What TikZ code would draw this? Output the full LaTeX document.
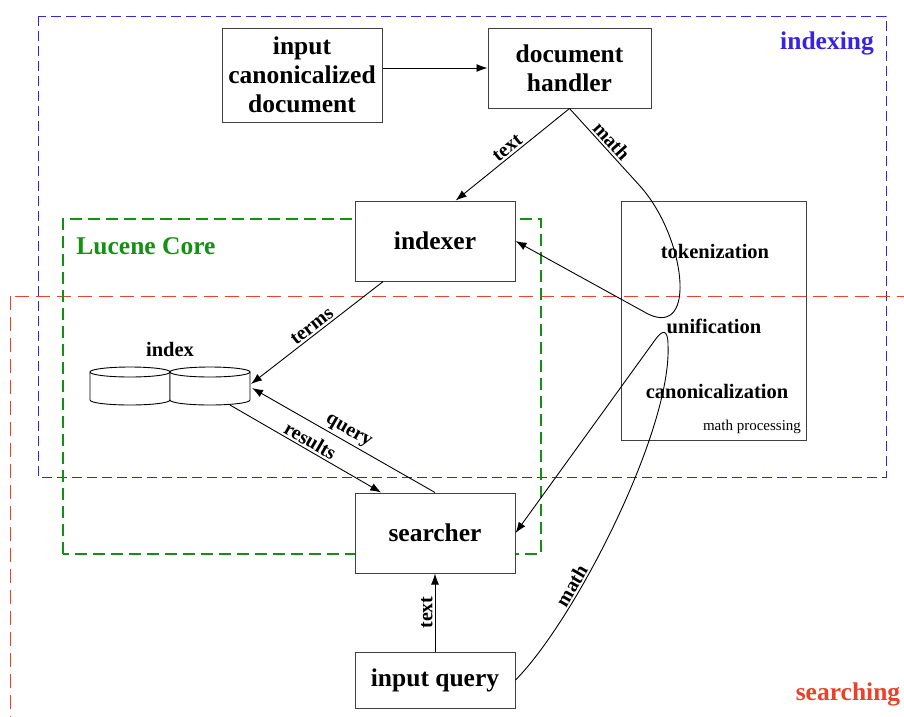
\documentclass[tikz,border=0pt]{standalone}
\usepackage{fontspec}
\setmainfont{Liberation Serif}
\usetikzlibrary{arrows.meta,calc}
\definecolor{idxblue}{RGB}{55,35,230}
\definecolor{srchred}{RGB}{235,65,40}
\definecolor{lucgreen}{RGB}{20,145,20}

\begin{document}
\begin{tikzpicture}[x=1pt,y=-1pt,
  box/.style={draw=black!75, fill=white, line width=1pt, minimum width=160pt,
    inner sep=0pt, align=center, font=\fontsize{25.5}{29}\selectfont\bfseries},
  conn/.style={draw=black, line width=0.9pt, -{Latex[length=11pt,width=8pt]}},
  lbl/.style={font=\fontsize{20}{23}\selectfont\bfseries, sloped, above, inner sep=2pt},
  mpstage/.style={font=\fontsize{20.5}{24}\selectfont\bfseries},
  region/.style={line width=1pt},
  cyl/.style={draw=black, line width=0.9pt, fill=white},
]
\useasboundingbox (0,0) rectangle (904,716);
\clip (0,0) rectangle (904,716);

% dashed regions
\draw[region, draw=idxblue, dash pattern=on 10pt off 5pt] (38,16) rectangle (886,477);
\draw[region, draw=srchred, dash pattern=on 14pt off 7pt] (10,296) rectangle (930,740);
\draw[region, draw=lucgreen, line width=1.15pt, dash pattern=on 12pt off 6pt]
  (63,554) -- (63,219) -- (541,219) -- (541,554) -- cycle;

\node[font=\fontsize{25.5}{29}\selectfont\bfseries, text=idxblue] (lidx) at (827,43) {indexing};
\node[font=\fontsize{25.5}{29}\selectfont\bfseries, text=srchred] (lsrch) at (848,694) {searching};
\node[font=\fontsize{25.5}{29}\selectfont\bfseries, text=lucgreen] (lluc) at (146,246) {Lucene Core};

% processing boxes
\node[box, minimum height=94pt] (inp) at (302,75) {input\\canonicalized\\document};
\node[box, minimum width=163pt, minimum height=80pt] (dh) at (569.5,68) {document\\handler};
\node[box, minimum height=80pt] (idx) at (435,241) {indexer};
\node[box, minimum height=80pt] (srch) at (435,533) {searcher};
\node[box, minimum height=56pt] (inq) at (435,680) {input query};

% math processing block
\node[draw=black!75, line width=1pt, minimum width=185pt, minimum height=239pt, inner sep=0pt] (mp) at (713.5,320.5) {};
\node[mpstage] (tok) at (715,251) {tokenization};
\node[mpstage] (uni) at (714,326) {unification};
\node[mpstage] (can) at (717,391) {canonicalization};
\node[font=\fontsize{15}{18}\selectfont] (mpl) at (752,427) {math processing};

% index: two cylinders
\foreach \cx in {130,210}{
  \draw[cyl] (\cx-40,372) -- (\cx-40,400)
    .. controls (\cx-40,402.76) and (\cx-22.09,405) .. (\cx,405)
    .. controls (\cx+22.09,405) and (\cx+40,402.76) .. (\cx+40,400)
    -- (\cx+40,372);
  \draw[cyl] (\cx,372) ellipse [x radius=40, y radius=5];
}
\node[font=\fontsize{20.5}{24}\selectfont\bfseries] (ixl) at (170,349) {index};
\coordinate (ix1) at (251,384);
\coordinate (ix2) at (252,388);
\coordinate (ixo) at (230,405);

% route points of the math paths
\coordinate (mbend) at (640,186);
\coordinate (mloop) at (648,314);
\coordinate (qtop) at (668,345);
\coordinate (qturn) at (655,340);

% connectors
\draw[conn] (inp.east |- dh.west) -- (dh.west);
\draw[conn] (dh.south) -- node[lbl] {text} (idx.63);
\draw[conn] (dh.south) -- node[lbl] {math} (mbend)
  .. controls (685,236) and (698,338) .. (mloop) -- (idx.east);
\draw[conn] (idx.-142) -- node[lbl] {terms} (ix1);
\draw[conn] (srch.north) -- node[lbl] {query} (ix2);
\draw[conn] (ixo) -- node[lbl] {results} (srch.143);
\draw[conn] (inq.north) -- node[lbl] {text} (srch.south);
\draw[conn] (inq.east) .. controls (575,620) and (672,430) .. (qtop)
  node[lbl, pos=.32] {math}
  .. controls (668,328) and (662,330) .. (qturn) -- (srch.east);
\end{tikzpicture}
\end{document}
